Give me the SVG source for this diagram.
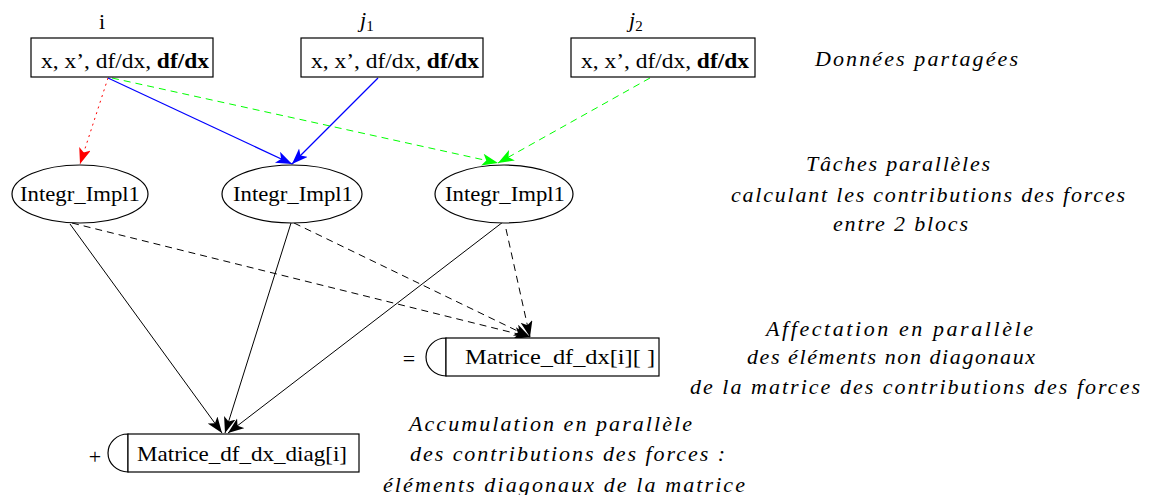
<svg xmlns="http://www.w3.org/2000/svg" width="1149" height="495" viewBox="0 0 1149 495">
<style>
.t{font-family:"Liberation Serif",serif;font-size:22px;fill:#000}
.it{font-family:"Liberation Serif",serif;font-size:22px;font-style:italic;fill:#000}
.b{font-weight:bold}
.box{fill:#fff;stroke:#000;stroke-width:1.2}
.ln{fill:none;stroke-width:1}
.red{stroke:#f00}
.blue{stroke:#0000ff;stroke-width:1.2}
.green{stroke:#0f0}
.black{stroke:#000}
</style>
<defs>
<marker id="ak" markerUnits="userSpaceOnUse" markerWidth="18" markerHeight="14" refX="16" refY="6" orient="auto"><path d="M0,0 L16,6 L0,12 L4,6 z" fill="#000"/></marker>
<marker id="ar" markerUnits="userSpaceOnUse" markerWidth="18" markerHeight="14" refX="16" refY="6" orient="auto"><path d="M0,0 L16,6 L0,12 L4,6 z" fill="#f00"/></marker>
<marker id="ab" markerUnits="userSpaceOnUse" markerWidth="18" markerHeight="14" refX="16" refY="6" orient="auto"><path d="M0,0 L16,6 L0,12 L4,6 z" fill="#00f"/></marker>
<marker id="ag" markerUnits="userSpaceOnUse" markerWidth="18" markerHeight="14" refX="16" refY="6" orient="auto"><path d="M0,0 L16,6 L0,12 L4,6 z" fill="#0f0"/></marker>
</defs>
<rect width="1149" height="495" fill="#fff"/>

<g id="connectors">
<line class="ln red" x1="108" y1="78" x2="80" y2="164" stroke-dasharray="2,4" marker-end="url(#ar)"/>
<line class="ln blue" x1="108" y1="78" x2="292" y2="164" marker-end="url(#ab)"/>
<path class="ln blue" d="M378,78 L292,164" marker-end="url(#ab)"/>
<line class="ln green" x1="112" y1="78" x2="498" y2="163" stroke-dasharray="7,5" marker-end="url(#ag)"/>
<line class="ln green" x1="650" y1="78" x2="498" y2="163" stroke-dasharray="7,5" marker-end="url(#ag)"/>
<line class="ln black" x1="72" y1="223" x2="530" y2="337" stroke-dasharray="7,5" marker-end="url(#ak)"/>
<line class="ln black" x1="294" y1="223" x2="530" y2="337" stroke-dasharray="7,5" marker-end="url(#ak)"/>
<line class="ln black" x1="506" y1="229" x2="530" y2="337" stroke-dasharray="7,5" marker-end="url(#ak)"/>
<line class="ln black" x1="70" y1="224" x2="222" y2="433" marker-end="url(#ak)"/>
<line class="ln black" x1="291" y1="223" x2="225" y2="433" marker-end="url(#ak)"/>
<line class="ln black" x1="503" y1="222" x2="228" y2="433" marker-end="url(#ak)"/>
</g>

<g id="data_i">
<text class="t" x="102" y="29" text-anchor="middle">i</text>
<rect class="box" x="31" y="38" width="182" height="39"/>
<text class="t" x="41" y="68" textLength="168" lengthAdjust="spacingAndGlyphs">x, x’, df/dx, <tspan class="b">df/dx</tspan></text>
</g>
<g id="data_j1">
<text class="it" x="360" y="27">j<tspan font-style="normal" font-size="15" dy="4">1</tspan></text>
<rect class="box" x="301" y="38" width="182" height="39"/>
<text class="t" x="311" y="68" textLength="168" lengthAdjust="spacingAndGlyphs">x, x’, df/dx, <tspan class="b">df/dx</tspan></text>
</g>
<g id="data_j2">
<text class="it" x="629" y="27">j<tspan font-style="normal" font-size="15" dy="4">2</tspan></text>
<rect class="box" x="571" y="38" width="184" height="39"/>
<text class="t" x="581" y="68" textLength="168" lengthAdjust="spacingAndGlyphs">x, x’, df/dx, <tspan class="b">df/dx</tspan></text>
</g>

<g id="task1">
<ellipse class="box" cx="80" cy="194" rx="68" ry="29"/>
<text class="t" x="20" y="201" textLength="120" lengthAdjust="spacingAndGlyphs">Integr_Impl1</text>
</g>
<g id="task2">
<ellipse class="box" cx="292" cy="194" rx="70" ry="29"/>
<text class="t" x="233" y="201" textLength="120" lengthAdjust="spacingAndGlyphs">Integr_Impl1</text>
</g>
<g id="task3">
<ellipse class="box" cx="504" cy="194" rx="69" ry="29"/>
<text class="t" x="445" y="201" textLength="120" lengthAdjust="spacingAndGlyphs">Integr_Impl1</text>
</g>

<g id="matrix_offdiag">
<text class="t" x="409" y="366" text-anchor="middle">=</text>
<path class="box" d="M446,338 A20,19 0 0 0 446,376 Z"/>
<rect class="box" x="446" y="338" width="213" height="38"/>
<text class="t" x="465" y="364" textLength="190" lengthAdjust="spacingAndGlyphs">Matrice_df_dx[i][ ]</text>
</g>
<g id="matrix_diag">
<text class="t" x="95" y="464" text-anchor="middle">+</text>
<path class="box" d="M128,434 A20,19 0 0 0 128,472 Z"/>
<rect class="box" x="128" y="434" width="231" height="38"/>
<text class="t" x="137" y="461" textLength="210" lengthAdjust="spacingAndGlyphs">Matrice_df_dx_diag[i]</text>
</g>

<g id="notes">
<text class="it" x="815" y="66" textLength="203" lengthAdjust="spacing">Données partagées</text>
<text class="it" x="806" y="171" textLength="184" lengthAdjust="spacing">Tâches parallèles</text>
<text class="it" x="731" y="202" textLength="394" lengthAdjust="spacing">calculant les contributions des forces</text>
<text class="it" x="833" y="231" textLength="135" lengthAdjust="spacing">entre 2 blocs</text>
<text class="it" x="766" y="336" textLength="267" lengthAdjust="spacing">Affectation en parallèle</text>
<text class="it" x="747" y="364" textLength="288" lengthAdjust="spacing">des éléments non diagonaux</text>
<text class="it" x="690" y="394" textLength="450" lengthAdjust="spacing">de la matrice des contributions des forces</text>
<text class="it" x="409" y="431" textLength="283" lengthAdjust="spacing">Accumulation en parallèle</text>
<text class="it" x="410" y="461" textLength="315" lengthAdjust="spacing">des contributions des forces :</text>
<text class="it" x="383" y="492" textLength="362" lengthAdjust="spacing">éléments diagonaux de la matrice</text>
</g>
</svg>
